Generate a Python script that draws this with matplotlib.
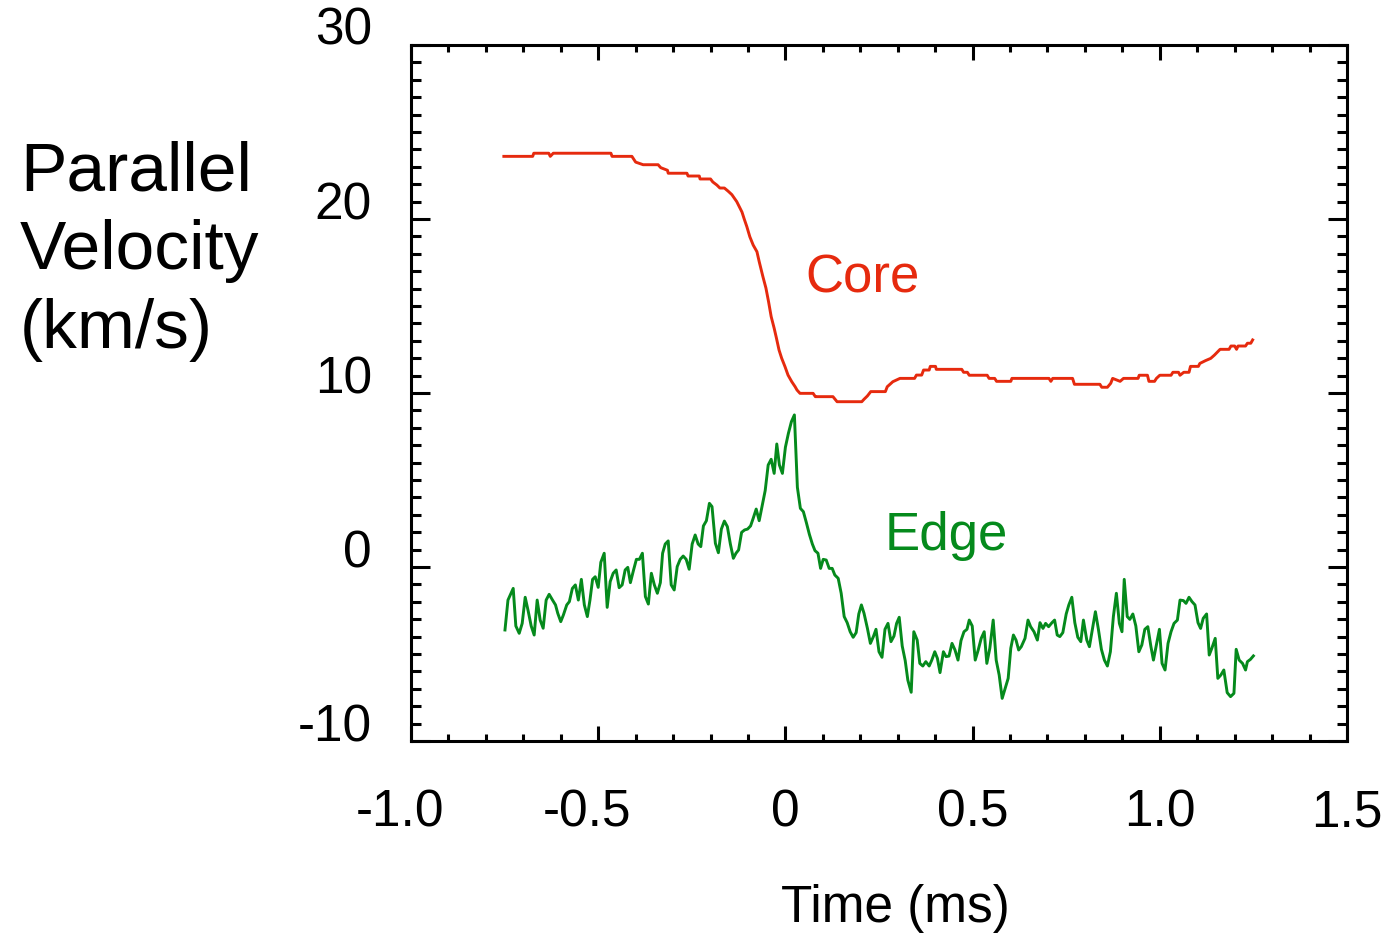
import matplotlib
matplotlib.use('Agg')
import matplotlib.pyplot as plt
from matplotlib.ticker import MultipleLocator
from matplotlib.transforms import ScaledTranslation

plt.rcParams['font.family'] = ['Liberation Sans', 'DejaVu Sans']
plt.rcParams['axes.unicode_minus'] = False

# ---------------- data ----------------
xticks = [-1.0, -0.5, 0.0, 0.5, 1.0, 1.5]
xtick_labels = ['-1.0', '-0.5', '0', '0.5', '1.0', '1.5']
yticks = [-10, 0, 10, 20, 30]
ytick_labels = ['-10', '0', '10', '20', '30']

core_t = [-0.752, -0.675, -0.672, -0.632, -0.628, -0.620, -0.466, -0.463, -0.410, -0.400,
          -0.380, -0.340, -0.333, -0.315, -0.313, -0.263, -0.260, -0.230, -0.228, -0.200,
          -0.194, -0.183, -0.175, -0.163, -0.153, -0.143, -0.130, -0.123, -0.116, -0.110,
          -0.103, -0.095, -0.086, -0.076, -0.070, -0.060, -0.052, -0.045, -0.038, -0.030,
          -0.024, -0.017, -0.010, -0.001, 0.007, 0.017, 0.026, 0.031, 0.039, 0.074,
          0.080, 0.084, 0.127, 0.138, 0.204, 0.210, 0.219, 0.228, 0.267, 0.272,
          0.287, 0.306, 0.345, 0.350, 0.364, 0.369, 0.384, 0.387, 0.401, 0.403,
          0.471, 0.476, 0.486, 0.491, 0.539, 0.544, 0.559, 0.564, 0.602, 0.605,
          0.704, 0.709, 0.714, 0.767, 0.772, 0.840, 0.845, 0.860, 0.869, 0.874,
          0.894, 0.903, 0.942, 0.945, 0.967, 0.971, 0.986, 0.991, 1.000, 1.030,
          1.035, 1.050, 1.054, 1.064, 1.078, 1.082, 1.103, 1.107, 1.122, 1.136,
          1.146, 1.161, 1.185, 1.190, 1.200, 1.205, 1.209, 1.229, 1.234, 1.243,
          1.248]
core_v = [23.60, 23.60, 23.78, 23.78, 23.60, 23.78, 23.78, 23.60, 23.60, 23.27,
          23.12, 23.12, 22.95, 22.80, 22.63, 22.63, 22.47, 22.47, 22.30, 22.30,
          22.13, 21.95, 21.78, 21.78, 21.60, 21.40, 21.00, 20.70, 20.40, 20.00,
          19.56, 18.98, 18.50, 18.12, 17.55, 16.68, 16.03, 15.25, 14.39, 13.72,
          13.16, 12.47, 12.00, 11.51, 11.03, 10.65, 10.36, 10.17, 9.98, 9.98,
          9.79, 9.79, 9.79, 9.50, 9.50, 9.64, 9.83, 10.08, 10.08, 10.36,
          10.65, 10.84, 10.84, 11.03, 11.03, 11.32, 11.32, 11.53, 11.53, 11.36,
          11.36, 11.19, 11.19, 11.02, 11.02, 10.84, 10.84, 10.67, 10.67, 10.84,
          10.84, 10.67, 10.84, 10.84, 10.50, 10.50, 10.33, 10.33, 10.56, 10.84,
          10.67, 10.84, 10.84, 11.02, 11.02, 10.67, 10.67, 10.84, 11.02, 11.02,
          11.19, 11.19, 11.02, 11.19, 11.19, 11.53, 11.53, 11.70, 11.86, 11.99,
          12.18, 12.51, 12.51, 12.70, 12.70, 12.51, 12.70, 12.70, 12.86, 12.86,
          13.05]

edge_t = [-0.749, -0.741, -0.734, -0.727, -0.720, -0.711, -0.703, -0.695, -0.687, -0.679,
          -0.671, -0.663, -0.655, -0.647, -0.639, -0.631, -0.622, -0.614, -0.608, -0.600,
          -0.593, -0.584, -0.577, -0.569, -0.561, -0.553, -0.545, -0.537, -0.529, -0.522,
          -0.515, -0.508, -0.500, -0.493, -0.484, -0.476, -0.468, -0.460, -0.452, -0.444,
          -0.436, -0.428, -0.421, -0.414, -0.406, -0.398, -0.390, -0.382, -0.374, -0.366,
          -0.358, -0.350, -0.342, -0.334, -0.328, -0.321, -0.313, -0.305, -0.297, -0.289,
          -0.281, -0.273, -0.265, -0.257, -0.249, -0.241, -0.233, -0.226, -0.219, -0.211,
          -0.203, -0.196, -0.187, -0.179, -0.171, -0.163, -0.155, -0.147, -0.139, -0.132,
          -0.125, -0.117, -0.109, -0.101, -0.093, -0.086, -0.078, -0.070, -0.062, -0.054,
          -0.046, -0.038, -0.030, -0.023, -0.016, -0.008, 0.000, 0.008, 0.016, 0.024,
          0.032, 0.040, 0.048, 0.056, 0.064, 0.072, 0.079, 0.087, 0.094, 0.101,
          0.109, 0.117, 0.125, 0.132, 0.141, 0.149, 0.157, 0.165, 0.173, 0.181,
          0.189, 0.196, 0.203, 0.210, 0.219, 0.227, 0.235, 0.242, 0.250, 0.258,
          0.266, 0.274, 0.282, 0.290, 0.297, 0.304, 0.312, 0.320,
          0.327, 0.336, 0.343, 0.352, 0.359, 0.367, 0.375, 0.384, 0.391, 0.399,
          0.406, 0.413, 0.422, 0.429, 0.437, 0.445, 0.453, 0.461, 0.469, 0.477,
          0.485, 0.491, 0.499, 0.507, 0.515, 0.523, 0.531, 0.538, 0.546, 0.555,
          0.563, 0.571, 0.579, 0.587, 0.595, 0.602, 0.609, 0.616, 0.623, 0.630,
          0.640, 0.648, 0.655, 0.664, 0.673, 0.680, 0.688, 0.695, 0.703, 0.712,
          0.719, 0.726, 0.733, 0.741, 0.750, 0.757, 0.765, 0.773, 0.781, 0.789,
          0.796, 0.805, 0.812, 0.820, 0.828, 0.836, 0.844, 0.852, 0.860, 0.868,
          0.876, 0.884, 0.892, 0.899, 0.905, 0.913, 0.920, 0.928, 0.936, 0.944,
          0.952, 0.960, 0.968, 0.976, 0.983, 0.990, 0.999, 1.006, 1.014, 1.022,
          1.030, 1.038, 1.047, 1.054, 1.063, 1.070, 1.078, 1.086, 1.094, 1.102,
          1.109, 1.116, 1.125, 1.132, 1.139, 1.148, 1.155, 1.163, 1.171, 1.180,
          1.189, 1.198, 1.204, 1.212, 1.221, 1.229, 1.234, 1.242, 1.250]
edge_v = [-3.62, -1.90, -1.57, -1.23, -3.39, -3.81, -3.24, -1.74, -2.53, -3.39,
          -3.91, -1.90, -3.05, -3.52, -1.90, -1.57, -1.90, -2.18, -2.66, -3.14,
          -2.76, -2.18, -1.99, -1.23, -1.03, -1.90, -0.71, -2.18, -2.85, -1.90,
          -0.71, -0.56, -1.17, 0.27, 0.79, -2.32, -0.84, -0.36, -0.17, -1.19,
          -1.03, -0.17, -0.02, -0.90, -0.21, 0.44, 0.44, 0.79, -1.70, -2.13,
          -0.36, -1.03, -1.51, -0.90, 0.79, 1.32, 1.50, -1.03, -1.32, 0.02,
          0.44, 0.63, 0.44, -0.13, 1.32, 1.84, 1.32, 1.17, 2.36, 2.66,
          3.66, 3.47, 1.36, 0.82, 2.18, 2.64, 2.32, 1.32, 0.50, 0.79,
          0.98, 1.99, 2.13, 2.18, 2.36, 2.80, 3.33, 2.66, 3.51, 4.39,
          5.86, 6.19, 5.38, 7.07, 5.86, 5.38, 6.88, 7.68, 8.35, 8.74,
          4.58, 3.37, 3.18, 2.55, 1.88, 1.32, 0.94, 0.79, -0.08, 0.44,
          0.40, -0.08, -0.08, -0.46, -0.65, -1.51, -2.85, -3.20, -3.72, -4.04,
          -3.77, -2.70, -2.18, -2.66, -3.52, -4.39, -4.00, -3.58, -4.87, -5.19,
          -3.58, -3.24, -4.29, -3.97, -3.24, -2.89, -4.54, -5.38,
          -6.50, -7.20, -3.72, -4.20, -5.54, -5.69, -5.44, -5.69, -5.35, -4.87,
          -5.25, -6.07, -4.87, -5.15, -5.12, -4.39, -4.77, -5.35, -4.23, -3.72,
          -3.58, -3.05, -3.39, -5.35, -4.77, -4.10, -3.72, -5.54, -4.67, -3.05,
          -5.35, -6.21, -7.55, -6.97, -6.40, -4.67, -3.91, -4.20, -4.77, -4.58,
          -4.10, -3.05, -3.43, -3.72, -4.20, -3.20, -3.53, -3.24, -3.43, -3.20,
          -3.05, -3.91, -4.00, -3.77, -2.70, -2.18, -1.74, -3.20, -4.04, -4.29,
          -3.05, -4.20, -4.58, -3.58, -2.57, -3.58, -4.73, -5.35, -5.69, -4.87,
          -2.85, -1.51, -3.24, -3.72, -0.71, -2.85, -3.01, -2.70, -3.39, -4.87,
          -4.48, -3.58, -3.43, -4.54, -5.35, -4.58, -3.58, -5.54, -5.92, -4.39,
          -3.72, -3.24, -3.05, -1.90, -1.93, -2.09, -1.74, -1.99, -2.18, -3.20,
          -3.53, -2.95, -2.70, -5.06, -4.67, -4.10, -6.40, -6.21, -5.92, -7.22,
          -7.45, -7.26, -4.73, -5.35, -5.54, -5.92, -5.44, -5.31, -5.11]

RED = '#E62A0E'
GREEN = '#058A1C'

# ---------------- figure ----------------
fig = plt.figure(figsize=(13.89, 9.34), dpi=100)
ax = fig.add_axes([411 / 1389, 193 / 934, 936 / 1389, 696 / 934])

ax.plot(core_t, core_v, color=RED, lw=2.1)
ax.plot(edge_t, edge_v, color=GREEN, lw=2.1)

ax.set_xlim(-1.0, 1.5)
ax.set_ylim(-10, 30)
ax.set_xticks(xticks, labels=xtick_labels)
ax.set_yticks(yticks, labels=ytick_labels)
ax.xaxis.set_minor_locator(MultipleLocator(0.1))
ax.yaxis.set_minor_locator(MultipleLocator(1))

ax.tick_params(which='both', direction='in', top=True, right=True,
               width=2.2, color='black', labelsize=37)
ax.tick_params(axis='x', which='major', length=11, pad=34)
ax.tick_params(axis='x', which='minor', length=5)
ax.tick_params(axis='y', which='major', length=14, pad=28)
ax.tick_params(axis='y', which='minor', length=7)
for lbl in ax.get_yticklabels():
    lbl.set_verticalalignment('baseline')
# negative x labels sit a little left of their ticks in the reference
for lbl in ax.get_xticklabels():
    if lbl.get_text().startswith('-'):
        lbl.set_transform(lbl.get_transform() +
                          ScaledTranslation(-8 / 72, 0, fig.dpi_scale_trans))
for s in ax.spines.values():
    s.set_linewidth(2.2)

ax.set_xlabel('Time (ms)', fontsize=37)
ax.xaxis.set_label_coords(0.517, -0.260)
ax.xaxis.label.set_verticalalignment('baseline')

ax.set_ylabel('Parallel\nVelocity\n(km/s)', fontsize=50, rotation=0,
              ha='left', va='top', linespacing=1.3)
ax.yaxis.set_label_coords(-0.4177, 0.8635)

ax.text(0.205, 15.75, 'Core', color=RED, fontsize=38, ha='center', va='baseline')
ax.text(0.429, 0.98, 'Edge', color=GREEN, fontsize=38, ha='center', va='baseline')

fig.savefig('out.png', dpi=100, facecolor='white')
